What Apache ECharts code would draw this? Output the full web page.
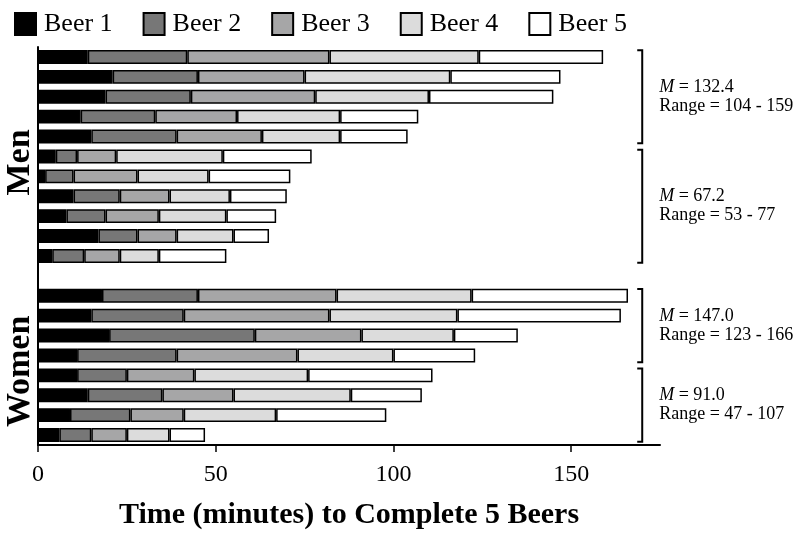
<!DOCTYPE html>
<html>
<head>
<meta charset="utf-8">
<script src="https://cdn.jsdelivr.net/npm/echarts@6/dist/echarts.min.js"></script>
<style>html,body{margin:0;padding:0;background:#fff}#c{width:800px;height:535px}</style>
</head>
<body>
<div id="c"></div>
<script>
// Participants (top to bottom); '' is the gap between Men and Women
const categories = ['M1','M2','M3','M4','M5','M6','M7','M8','M9','M10','M11','','W1','W2','W3','W4','W5','W6','W7','W8'];
// minutes spent on each beer
const beer1 = [14,21,19,12,15,5,2,10,8,17,4,null,18,15,20,11,11,14,9,6];
const beer2 = [28,24,24,21,24,6,8,13,11,11,9,null,27,26,41,28,14,21,17,9];
const beer3 = [40,30,35,23,24,11,18,14,15,11,10,null,39,41,30,34,19,20,15,10];
const beer4 = [42,41,32,29,22,30,20,17,19,16,11,null,38,36,26,27,32,33,26,12];
const beer5 = [35,31,35,22,19,25,23,16,14,10,19,null,44,46,18,23,35,20,31,10];
const seriesNames = ['Beer 1','Beer 2','Beer 3','Beer 4','Beer 5'];
const xTicks = [0,50,100,150];
// group annotations
const groupFirst = [0,5,12,16];
const groupLast = [4,10,15,19];
const groupMeans = ['132.4','67.2','147.0','91.0'];
const groupRanges = ['104 - 159','53 - 77','123 - 166','47 - 107'];
const sexLabels = ['Men','Women'];
const sexFirst = [0,12];
const sexLast = [10,19];

const colors = ['#000000','#777777','#a6a6a7','#dcdcdc','#ffffff'];
const values = [beer1,beer2,beer3,beer4,beer5];
const FONT = '"Liberation Serif", "Times New Roman", serif';

const chart = echarts.init(document.getElementById('c'), null, {renderer:'canvas'});
const option = {
  animation: false,
  backgroundColor: '#fff',
  legend: {
    left: 9, top: 6,
    itemWidth: 21, itemHeight: 22, itemGap: 30,
    icon: 'rect',
    textStyle: {fontFamily: FONT, fontSize: 26, color: '#000', padding:[0,0,0,3]},
    data: seriesNames
  },
  grid: {left: 38, right: 140, top: 47, bottom: 79, containLabel: false},
  xAxis: {
    type: 'value', min: 0, max: 175,
    axisLine: {show: true, onZero:false, lineStyle: {color: '#000', width: 2}},
    axisTick: {show: true, length: 7, lineStyle: {color:'#000', width: 1.5}, customValues: xTicks},
    axisLabel: {color: '#000', fontFamily: FONT, fontSize: 24, margin: 18, customValues: xTicks},
    splitLine: {show: false},
    name: 'Time (minutes) to Complete 5 Beers',
    nameLocation: 'middle', nameGap: 55,
    nameTextStyle: {fontFamily: FONT, fontSize: 30, fontWeight: 'bold', color: '#000'}
  },
  yAxis: {
    type: 'category', inverse: true, data: categories,
    axisLine: {show: true, lineStyle: {color: '#000', width: 2}},
    axisTick: {show: false},
    axisLabel: {show: false},
    splitLine: {show: false}
  },
  series: seriesNames.map((n, i) => ({
    name: n, type: 'bar', stack: 'total',
    data: values[i],
    barCategoryGap: '30%',
    itemStyle: {color: colors[i], borderColor: '#000', borderWidth: 1.5},
    emphasis: {disabled: true}
  }))
};
chart.setOption(option);

// annotations placed through the category axis
const yc = i => chart.convertToPixel({yAxisIndex: 0}, categories[i]);
const band = yc(1) - yc(0);
const bx = chart.convertToPixel({xAxisIndex: 0}, 170);
const graphics = [];
for (let g = 0; g < groupFirst.length; g++) {
  const y1 = yc(groupFirst[g]) - band * 0.34;
  const y2 = yc(groupLast[g]) + band * 0.34;
  graphics.push({
    type: 'polyline', silent: true,
    shape: {points: [[bx - 5, y1], [bx, y1], [bx, y2], [bx - 5, y2]]},
    style: {stroke: '#000', lineWidth: 2, fill: null}
  });
  graphics.push({
    type: 'text', silent: true,
    x: bx + 17, y: (y1 + y2) / 2,
    style: {
      text: '{i|M} = ' + groupMeans[g] + '\nRange = ' + groupRanges[g],
      fontFamily: FONT, fontSize: 18, fill: '#000', lineHeight: 19,
      align: 'left', verticalAlign: 'middle',
      rich: {i: {fontStyle: 'italic', fontFamily: FONT, fontSize: 18, lineHeight: 19}}
    }
  });
}
for (let s = 0; s < sexLabels.length; s++) {
  const y1 = yc(sexFirst[s]) - band / 2;
  const y2 = yc(sexLast[s]) + band / 2;
  graphics.push({
    type: 'text', silent: true,
    x: 20, y: (y1 + y2) / 2 + 6, rotation: Math.PI / 2,
    style: {text: sexLabels[s], fontFamily: FONT, fontSize: 34, fontWeight: 'bold',
            fill: '#000', align: 'center', verticalAlign: 'middle'}
  });
}
chart.setOption({graphic: graphics});
</script>
</body>
</html>
